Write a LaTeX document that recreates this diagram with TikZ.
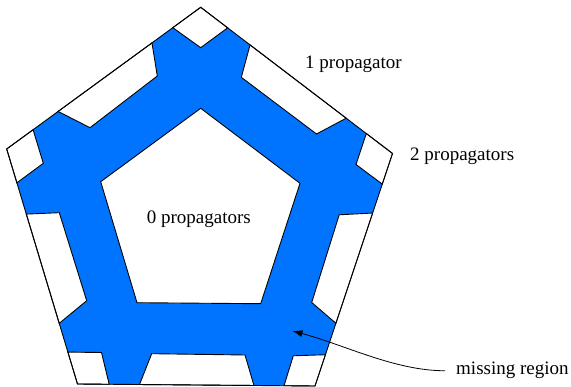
\documentclass[tikz,border=0pt]{standalone}
\usepackage{fontspec}
\setmainfont{Liberation Serif}
\usetikzlibrary{calc,arrows.meta}
\definecolor{regblue}{RGB}{0,116,255}
\tikzset{
  edge/.style={draw=black,line width=0.9pt,line join=miter},
  notch/.style={edge,fill=white},
  lbl/.style={font=\fontsize{19}{22}\selectfont,inner sep=0pt,anchor=base west},
  pointer/.style={draw=black,line width=0.8pt,-{Latex[length=10pt,width=7pt]}}
}
\begin{document}
\begin{tikzpicture}[x=1pt,y=-1pt]
\useasboundingbox (0,0) rectangle (571,387);
% outer pentagon
\coordinate (O1) at (200.7,7.3);
\coordinate (O2) at (392.5,153.5);
\coordinate (O3) at (315,386);
\coordinate (O4) at (77.5,384);
\coordinate (O5) at (6.7,149);
% inner pentagon
\coordinate (I1) at (200.7,108.3);
\coordinate (I2) at (300,183.3);
\coordinate (I3) at (260.7,303.7);
\coordinate (I4) at (137,302.7);
\coordinate (I5) at (100.7,181.7);
% blue region
\fill[regblue] (O1) -- (O2) -- (O3) -- (O4) -- (O5) -- cycle;
% corner notches
\path[notch] (O1) -- ($(O1)!(227.3,28.3)!(O2)$) -- (200.7,47.7) -- ($(O5)!(173.3,28.3)!(O1)$) -- cycle;
\path[notch] (O5) -- ($(O5)!(33.3,130)!(O1)$) -- (43.3,163.3) -- ($(O5)!(17.3,182.7)!(O4)$) -- cycle;
\path[notch] (O2) -- ($(O1)!(366,134)!(O2)$) -- (356,164.5) -- ($(O2)!(381,183.7)!(O3)$) -- cycle;
\path[notch] (O4) -- ($(O5)!(68.3,352)!(O4)$) -- (101.5,352.5) -- ($(O4)!(109.2,384)!(O3)$) -- cycle;
\path[notch] (O3) -- ($(O2)!(326.2,355)!(O3)$) -- (293.3,355.8) -- ($(O4)!(284,385.8)!(O3)$) -- cycle;
% middle notches
\path[notch] ($(O5)!(58.3,111.7)!(O1)$) -- (90,127.7) -- (157.3,76) -- ($(O5)!(152.3,43.3)!(O1)$) -- cycle;
\path[notch] ($(O1)!(250,45)!(O2)$) -- (241.3,77.3) -- (316.5,134) -- ($(O1)!(346,118.5)!(O2)$) -- cycle;
\path[notch] ($(O5)!(26.7,214)!(O4)$) -- (59.3,212.7) -- (86.7,300.7) -- ($(O5)!(59.5,323.3)!(O4)$) -- cycle;
\path[notch] ($(O4)!(139.5,383.8)!(O3)$) -- (151.7,353.7) -- (245,355) -- ($(O4)!(254,385)!(O3)$) -- cycle;
\path[notch] ($(O2)!(372.5,213)!(O3)$) -- (339.2,214.8) -- (311.7,302.5) -- ($(O2)!(336,323.3)!(O3)$) -- cycle;
% inner hole
\path[notch] (I1) -- (I2) -- (I3) -- (I4) -- (I5) -- cycle;
% outer border
\path[edge] (O1) -- (O2) -- (O3) -- (O4) -- (O5) -- cycle;
% labels
\node[lbl] (p1) at (305,68.3) {1 propagator};
\node[lbl] (p2) at (410,161) {2 propagators};
\node[lbl] (p0) at (146.7,223.3) {0 propagators};
\node[lbl] (mr) at (456,375) {missing region};
\coordinate (tip) at (292.5,331);
\draw[pointer] ([xshift=-11pt]mr.west) .. controls +(-50,0) and (345,345) .. (tip);
\end{tikzpicture}
\end{document}
